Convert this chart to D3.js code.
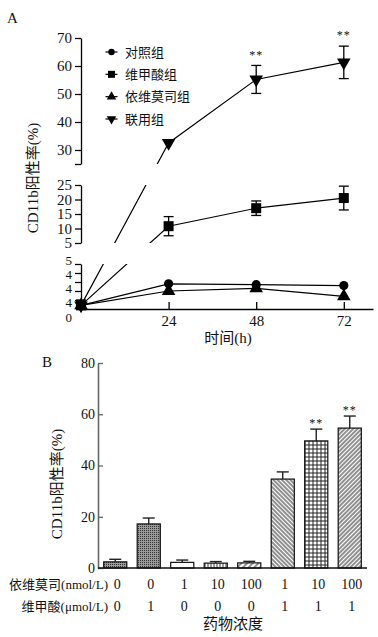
<!DOCTYPE html>
<html>
<head>
<meta charset="utf-8">
<script src="https://cdn.jsdelivr.net/npm/d3@7"></script>
<style>
  body { margin: 0; background: #fff; }
  text { font-family: "Liberation Serif", "Times New Roman", "Noto Sans CJK SC", serif; fill: #111; }
</style>
</head>
<body>
<div id="chart"></div>
<script>
// ---- panel A: time course ----
const hours = [0, 24, 48, 72];
const seriesNames = ['对照组', '维甲酸组', '依维莫司组', '联用组'];
const ctrlVals = [0.4, 2.8, 2.7, 2.6];
const raVals = [0.4, 10.8, 17.0, 20.5];
const raErr = [0.6, 3.3, 2.5, 4.1];
const eveVals = [0.4, 2.0, 2.3, 1.4];
const comboVals = [0.4, 32.5, 55.2, 61.3];
const comboErr = [0, 0, 5.0, 5.8];
const comboSig = ['', '', '**', '**'];
const topTicks = [25, 30, 40, 50, 60, 70];
const midTicks = [5, 10, 15, 20, 25];
const lowTicks = [1, 2, 3, 4, 5];
const lowLabels = ['5', '4', '4', '4', '0'];
const hourTicks = [24, 48, 72];

// ---- panel B: concentrations ----
const eveConc = ['0', '0', '1', '10', '100', '1', '10', '100'];
const raConc = ['0', '1', '0', '0', '0', '1', '1', '1'];
const barVals = [2.4, 17.2, 2.2, 1.9, 2.0, 34.7, 49.6, 54.6];
const barErr = [1.0, 2.3, 0.9, 0.6, 0.6, 2.8, 4.6, 4.7];
const barSig = ['', '', '', '', '', '', '**', '**'];
const barTicks = [0, 20, 40, 60, 80];

const W = 378, H = 637;
const svg = d3.select('#chart').append('svg')
  .attr('width', W).attr('height', H);

// ================= panel A =================
svg.append('text').attr('x', 7).attr('y', 18).attr('dy', '.35em')
  .style('font-size', '15px').text('A');

const x = d3.scaleLinear().domain([0, 80]).range([81, 373]);
const yTop = d3.scaleLinear().domain([25, 70]).range([164, 38]);
const yMid = d3.scaleLinear().domain([5, 25]).range([243, 185]);
const yLow = d3.scaleLinear().domain([0, 5]).range([309, 264]);
const yPos = v => v >= 25 ? yTop(v) : (v >= 5 ? yMid(v) : yLow(Math.max(v, 0)));

function styleAxis(g, col) {
  g.selectAll('path, line').attr('stroke', col).attr('stroke-width', 1.3);
  g.selectAll('text').style('font-size', '15px').attr('fill', '#111');
}

svg.append('g').attr('transform', 'translate(81,0)')
  .call(d3.axisLeft(yTop).tickValues(topTicks).tickSize(6).tickSizeOuter(0)
    .tickFormat(d => d === 25 ? '' : d))
  .call(g => styleAxis(g, '#000'));
svg.append('g').attr('transform', 'translate(81,0)')
  .call(d3.axisLeft(yMid).tickValues(midTicks).tickSize(6).tickSizeOuter(0))
  .call(g => styleAxis(g, '#000'));
svg.append('g').attr('transform', 'translate(81,0)')
  .call(d3.axisLeft(yLow).tickValues(lowTicks).tickSize(6).tickSizeOuter(0).tickFormat(''))
  .call(g => styleAxis(g, '#000'));

// labels of the lowest axis piece, as printed
const lowLab = d3.scalePoint().domain(d3.range(lowLabels.length)).range([260, 317]);
svg.append('g').selectAll('text').data(lowLabels).join('text')
  .attr('x', 72).attr('y', (d, i) => lowLab(i)).attr('dy', '.35em')
  .attr('text-anchor', 'end').style('font-size', '13px').text(d => d);

// x axis
svg.append('g').attr('transform', 'translate(0,309)')
  .call(d3.axisBottom(x).tickValues(hourTicks).tickSize(-7).tickSizeOuter(0).tickPadding(6))
  .call(g => styleAxis(g, '#000'));

svg.append('text').attr('x', 228).attr('y', 338).attr('dy', '.35em')
  .attr('text-anchor', 'middle').style('font-size', '15px').text('时间(h)');

svg.append('text')
  .attr('transform', 'translate(33,178) rotate(-90)')
  .attr('text-anchor', 'middle').attr('dy', '.35em')
  .style('font-size', '15px').text('CD11b阳性率(%)');

// clip for the broken axis gaps
const clip = svg.append('defs').append('clipPath').attr('id', 'bands');
[[yTop.range()[1], yTop.range()[0]], [yMid.range()[1], yMid.range()[0]], [yLow.range()[1], yLow.range()[0] + 1]]
  .forEach(([a, b]) => clip.append('rect').attr('x', 0).attr('y', a).attr('width', W).attr('height', b - a));

const series = [
  { name: seriesNames[3], vals: comboVals, err: comboErr, shape: 'down' },
  { name: seriesNames[1], vals: raVals, err: raErr, shape: 'square' },
  { name: seriesNames[2], vals: eveVals, err: null, shape: 'up' },
  { name: seriesNames[0], vals: ctrlVals, err: null, shape: 'circle' }
];

function marker(g, shape, scale) {
  if (shape === 'circle') {
    g.append('circle').attr('r', 4.6 * scale).attr('fill', '#000');
  } else if (shape === 'square') {
    const s = 10 * scale;
    g.append('rect').attr('x', -s / 2).attr('y', -s / 2).attr('width', s).attr('height', s).attr('fill', '#000');
  } else {
    g.append('path').attr('d', d3.symbol().type(d3.symbolTriangle).size(80 * scale * scale)())
      .attr('transform', shape === 'down' ? 'rotate(180)' : null).attr('fill', '#000');
  }
}

const line = d3.line().x(d => x(d[0])).y(d => yPos(d[1]));
const plot = svg.append('g');
series.forEach(s => {
  plot.append('path')
    .datum(hours.map((h, i) => [h, s.vals[i]]))
    .attr('d', line).attr('fill', 'none').attr('stroke', '#000').attr('stroke-width', 1.2)
    .attr('clip-path', 'url(#bands)');
});
series.forEach(s => {
  hours.forEach((h, i) => {
    if (s.err && s.err[i] > 0) {
      const y1 = yPos(s.vals[i] + s.err[i]), y0 = yPos(s.vals[i] - s.err[i]);
      const cx = x(h);
      plot.append('line').attr('x1', cx).attr('x2', cx).attr('y1', y0).attr('y2', y1)
        .attr('stroke', '#000').attr('stroke-width', 1.3);
      [y0, y1].forEach(yy => plot.append('line').attr('x1', cx - 5).attr('x2', cx + 5)
        .attr('y1', yy).attr('y2', yy).attr('stroke', '#000').attr('stroke-width', 1.3));
    }
    const g = plot.append('g').attr('transform', `translate(${x(h)},${yPos(s.vals[i])})`);
    marker(g, s.shape, 1);
  });
});

// significance marks on the combined group
svg.append('g').selectAll('text').data(hours).join('text')
  .attr('x', h => x(h))
  .attr('y', (h, i) => yPos(comboVals[i] + comboErr[i]) - 11)
  .attr('dy', '.35em').attr('text-anchor', 'middle')
  .style('font-size', '12px').style('letter-spacing', '1px').attr('fill', '#444')
  .text((h, i) => comboSig[i]);

// legend
const legOrder = [
  { name: seriesNames[0], shape: 'circle' },
  { name: seriesNames[1], shape: 'square' },
  { name: seriesNames[2], shape: 'up' },
  { name: seriesNames[3], shape: 'down' }
];
const legY = d3.scalePoint().domain(d3.range(4)).range([52, 119]);
legOrder.forEach((d, i) => {
  const g = svg.append('g').attr('transform', `translate(111.5,${legY(i)})`);
  g.append('line').attr('x1', -6).attr('x2', 6).attr('stroke', '#000').attr('stroke-width', 1.2);
  marker(g, d.shape, 0.7);
  svg.append('text').attr('x', 125).attr('y', legY(i)).attr('dy', '.35em')
    .style('font-size', '13px').text(d.name);
});

// ================= panel B =================
svg.append('text').attr('x', 42).attr('y', 362).attr('dy', '.35em')
  .style('font-size', '15px').text('B');

const defs = svg.select('defs');
function pat(id, size, rot, draw) {
  const p = defs.append('pattern').attr('id', id).attr('patternUnits', 'userSpaceOnUse')
    .attr('width', size).attr('height', size);
  if (rot) p.attr('patternTransform', `rotate(${rot})`);
  p.append('rect').attr('width', size).attr('height', size).attr('fill', '#fff');
  draw(p, size);
}
pat('dots', 2, 0, (p) => {
  p.select('rect').attr('fill', '#9a9a9a');
  p.append('rect').attr('width', 1).attr('height', 1).attr('fill', '#333');
});
pat('vlines', 3, 0, (p, s) => p.append('line').attr('x1', 1).attr('x2', 1).attr('y1', 0).attr('y2', s)
  .attr('stroke', '#222').attr('stroke-width', 0.9));
pat('diagR', 4, 45, (p, s) => p.append('line').attr('x1', 1).attr('x2', 1).attr('y1', 0).attr('y2', s)
  .attr('stroke', '#222').attr('stroke-width', 1));
pat('diagRd', 3, 45, (p, s) => p.append('line').attr('x1', 1).attr('x2', 1).attr('y1', 0).attr('y2', s)
  .attr('stroke', '#222').attr('stroke-width', 1));
pat('diagL', 3, -45, (p, s) => p.append('line').attr('x1', 1).attr('x2', 1).attr('y1', 0).attr('y2', s)
  .attr('stroke', '#222').attr('stroke-width', 1));
pat('grid', 4, 0, (p, s) => {
  p.append('line').attr('x1', 1).attr('x2', 1).attr('y1', 0).attr('y2', s).attr('stroke', '#222').attr('stroke-width', 1);
  p.append('line').attr('y1', 1).attr('y2', 1).attr('x1', 0).attr('x2', s).attr('stroke', '#222').attr('stroke-width', 1);
});
const barFills = ['url(#dots)', 'url(#dots)', '#fff', 'url(#vlines)', 'url(#diagR)', 'url(#diagL)', 'url(#grid)', 'url(#diagRd)'];

const xb = d3.scaleBand().domain(d3.range(barVals.length)).range([98, 367])
  .paddingInner(0.31).paddingOuter(0.17);
const yb = d3.scaleLinear().domain([0, 80]).range([568, 363]);

svg.append('g').attr('transform', 'translate(98,0)')
  .call(d3.axisLeft(yb).tickValues(barTicks).tickSize(-5).tickSizeOuter(0).tickPadding(3))
  .call(g => styleAxis(g, '#666'))
  .call(g => g.selectAll('text').style('font-size', '14px'))
  .call(g => g.select('.domain').attr('stroke-width', 1.6));

const bars = svg.append('g');
barVals.forEach((v, i) => {
  const cx = xb(i) + xb.bandwidth() / 2;
  const top = yb(v + barErr[i]);
  bars.append('line').attr('x1', cx).attr('x2', cx).attr('y1', yb(v)).attr('y2', top)
    .attr('stroke', '#222').attr('stroke-width', 1.4);
  bars.append('line').attr('x1', cx - 6).attr('x2', cx + 6).attr('y1', top).attr('y2', top)
    .attr('stroke', '#222').attr('stroke-width', 1.4);
  bars.append('rect').attr('x', xb(i)).attr('y', yb(v))
    .attr('width', xb.bandwidth()).attr('height', yb(0) - yb(v))
    .attr('fill', barFills[i]).attr('stroke', '#111').attr('stroke-width', 1.2);
  if (barSig[i]) {
    bars.append('text').attr('x', cx).attr('y', top - 6).attr('dy', '.35em')
      .attr('text-anchor', 'middle').style('font-size', '12px').style('letter-spacing', '1px')
      .attr('fill', '#555').text(barSig[i]);
  }
});

svg.append('line').attr('x1', 98).attr('x2', 367).attr('y1', 568).attr('y2', 568)
  .attr('stroke', '#111').attr('stroke-width', 1.4);

// concentration rows
const rows = [
  { label: '依维莫司(nmol/L)', vals: eveConc, y: 584 },
  { label: '维甲酸(μmol/L)', vals: raConc, y: 606 }
];
rows.forEach(r => {
  svg.append('text').attr('x', 108).attr('y', r.y).attr('dy', '.35em')
    .attr('text-anchor', 'end').style('font-size', '13px').text(r.label);
  svg.append('g').selectAll('text').data(r.vals).join('text')
    .attr('x', (d, i) => xb(i) + xb.bandwidth() / 2 + 2).attr('y', r.y).attr('dy', '.35em')
    .attr('text-anchor', 'middle').style('font-size', '14px').text(d => d);
});
svg.append('text').attr('x', 233).attr('y', 624).attr('dy', '.35em')
  .attr('text-anchor', 'middle').style('font-size', '15px').text('药物浓度');

svg.append('text')
  .attr('transform', 'translate(57,484) rotate(-90)')
  .attr('text-anchor', 'middle').attr('dy', '.35em')
  .style('font-size', '15px').text('CD11b阳性率(%)');
</script>
</body>
</html>
